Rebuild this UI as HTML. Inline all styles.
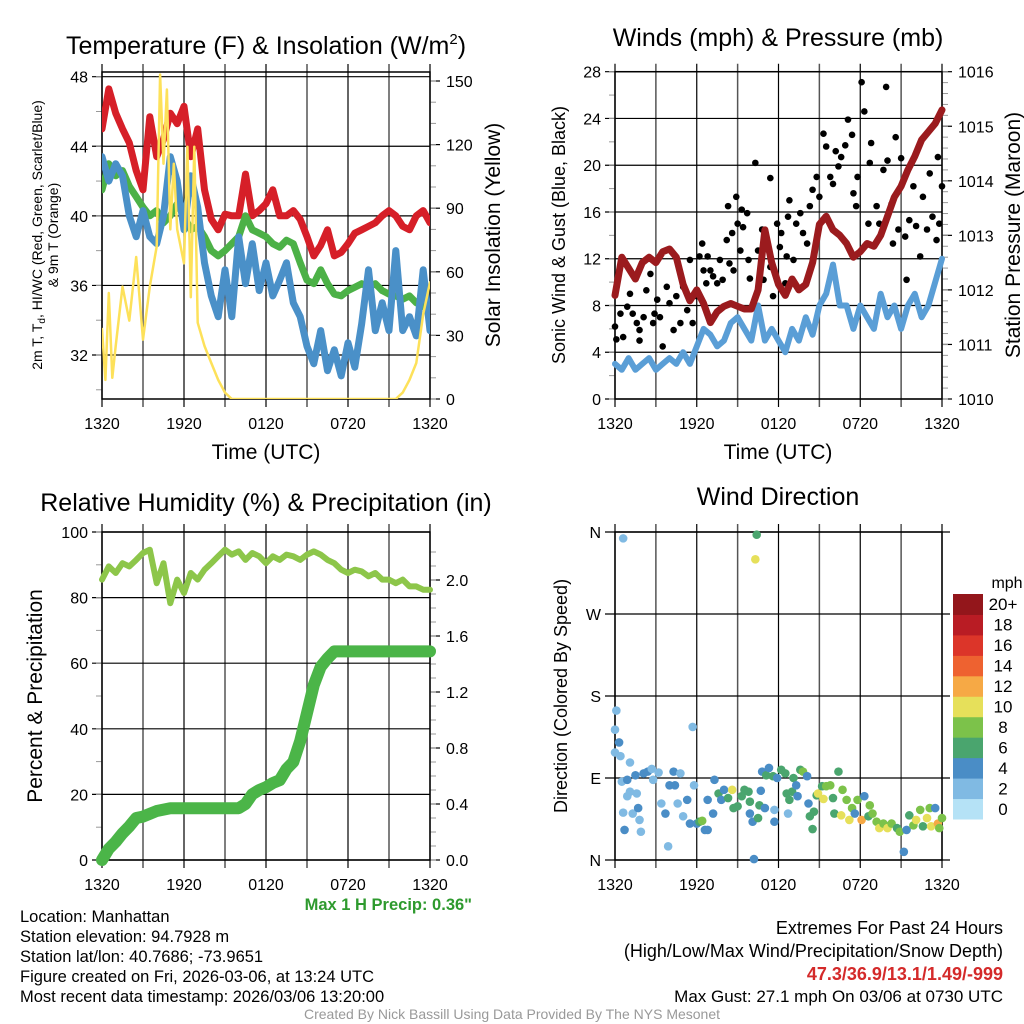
<!DOCTYPE html>
<html><head><meta charset="utf-8"><style>
html,body{margin:0;padding:0;background:#fff}
svg{display:block;font-family:"Liberation Sans",sans-serif}
</style></head><body>
<svg id="chart" width="1024" height="1024" viewBox="0 0 1024 1024" xmlns="http://www.w3.org/2000/svg">
<rect width="1024" height="1024" fill="#fff"/>
<g id="root"></g>
<text x="266" y="54" text-anchor="middle" font-size="25">Temperature (F) &amp; Insolation (W/m<tspan dy="-10" font-size="15">2</tspan><tspan dy="10">)</tspan></text>
<text x="778" y="46" text-anchor="middle" font-size="25">Winds (mph) &amp; Pressure (mb)</text>
<text x="266" y="511" text-anchor="middle" font-size="25">Relative Humidity (%) &amp; Precipitation (in)</text>
<text x="778" y="505" text-anchor="middle" font-size="25">Wind Direction</text>
<text x="266" y="459" text-anchor="middle" font-size="21">Time (UTC)</text>
<text x="778" y="459" text-anchor="middle" font-size="21">Time (UTC)</text>
<text transform="translate(42,235) rotate(-90)" text-anchor="middle" font-size="14">2m T, T<tspan font-size="10" dy="3">d</tspan><tspan dy="-3">, HI/WC (Red, Green, Scarlet/Blue)</tspan></text>
<text transform="translate(58,235) rotate(-90)" text-anchor="middle" font-size="14">&amp; 9m T (Orange)</text>
<text transform="translate(500,235) rotate(-90)" text-anchor="middle" font-size="21">Solar Insolation (Yellow)</text>
<text transform="translate(565,235) rotate(-90)" text-anchor="middle" font-size="18">Sonic Wind &amp; Gust (Blue, Black)</text>
<text transform="translate(1020,235) rotate(-90)" text-anchor="middle" font-size="21">Station Pressure (Maroon)</text>
<text transform="translate(42,696) rotate(-90)" text-anchor="middle" font-size="21">Percent &amp; Precipitation</text>
<text transform="translate(567,696) rotate(-90)" text-anchor="middle" font-size="18">Direction (Colored By Speed)</text>
<text x="472" y="910" text-anchor="end" font-size="16.5" font-weight="bold" fill="#2e9a2e">Max 1 H Precip: 0.36"</text>
<g font-size="16.5">
<text x="20" y="922">Location: Manhattan</text>
<text x="20" y="942">Station elevation: 94.7928 m</text>
<text x="20" y="962">Station lat/lon: 40.7686; -73.9651</text>
<text x="20" y="982">Figure created on Fri, 2026-03-06, at 13:24 UTC</text>
<text x="20" y="1002">Most recent data timestamp: 2026/03/06 13:20:00</text>
</g>
<g font-size="18" text-anchor="end">
<text x="1003" y="934">Extremes For Past 24 Hours</text>
<text x="1003" y="957">(High/Low/Max Wind/Precipitation/Snow Depth)</text>
<text x="1003" y="980" fill="#d42a2a" font-weight="bold">47.3/36.9/13.1/1.49/-999</text>
<text x="1003" y="1002" font-size="17">Max Gust: 27.1 mph On 03/06 at 0730 UTC</text>
</g>
<text x="512" y="1019" text-anchor="middle" font-size="14" fill="#999">Created By Nick Bassill Using Data Provided By The NYS Mesonet</text>
</svg>
<script>
// ---- data ----
const timeLabels=["1320","1920","0120","0720","1320"];
const hours=[0,0.5,1,1.5,2,2.5,3,3.5,4,4.5,5,5.5,6,6.5,7,7.5,8,8.5,9,9.5,10,10.5,11,11.5,12,12.5,13,13.5,14,14.5,15,15.5,16,16.5,17,17.5,18,18.5,19,19.5,20,20.5,21,21.5,22,22.5,23,23.5,24];
const tempF=[45,47.3,45.9,45,44.2,42.6,41.5,45.7,43.4,44.4,45.9,45.3,46.3,43.4,45,41.5,39.8,39.2,40.1,40,40,42.4,40,40.3,40.7,41.5,40,40,40.3,39.8,38.8,37.7,38.3,39.2,37.7,37.9,38.4,39,39.2,39.4,39.6,40,40.3,40,39.4,39.2,40,40.3,39.6];
const dewF=[41.5,43,42.3,42.6,41.7,41.1,40.5,40,40.3,39.6,40,40.7,40,39.2,39.4,38.8,38,37.7,38,38.4,38.8,40,39.2,39,38.8,38.4,38.2,38.6,38.4,37.3,36.3,36.1,36.9,36.1,35.5,35.4,35.7,35.9,36.1,35.9,36.1,35.7,35.5,35.4,35.2,35.4,35,34.8,34.6];
const windChillF=[43.4,42,43,42.3,40,38.8,40.3,38.8,38.4,40,43.4,42,39.2,42.3,40.5,37.3,35.4,34.2,36.9,34.2,38.8,36.1,38.4,35.7,37.3,35.4,36.3,37.3,35,34.2,32.5,31.5,33.4,31.1,32.3,30.8,32.7,31.3,33.8,36.9,33.4,35,33.4,38,33.4,34.2,33.1,36.9,33.4];
const solarHours=[0,0.25,0.5,0.75,1,1.5,2,2.5,3,3.5,4,4.25,4.5,4.75,5,5.25,5.5,6,6.25,6.5,6.75,7,7.5,8,8.5,9,9.5,21.5,22,22.5,23,23.5,24];
const solarW=[33,9,50,10,25,53,37,67,28,53,72,153,111,146,80,111,80,64,119,48,119,36,25,17,9,3,0,0,3,9,17,40,55];
const windMph=[3,2.5,3.5,2.5,3,3.5,2.5,3,3.5,3,4,3,4.5,6,5.5,4.5,5,6.5,7,6,5,8,5,6,5,4,6,5,7,5.5,8,9,11.5,8,8,6,8,7,6,9,7,8,6,8,9,7,8,10,12];
const pressureMb=[1011.9,1012.6,1012.4,1012.2,1012.5,1012.6,1012.5,1012.7,1012.75,1012.6,1012.1,1011.8,1012,1011.75,1011.4,1011.6,1011.7,1011.75,1011.7,1011.65,1011.65,1012,1013.1,1012.5,1012.1,1011.9,1012.2,1012,1012.1,1012.5,1013.2,1013.35,1013.1,1013,1012.85,1012.6,1012.7,1012.85,1012.8,1013,1013.35,1013.7,1013.9,1014.2,1014.45,1014.75,1014.9,1015.05,1015.3];
const gustHours=[0,0.1,0.4,0.6,0.9,1.1,1.3,1.6,1.8,1.8,2.1,2.3,2.6,2.8,2.9,3.1,3.3,3.5,3.8,4,4.3,4.5,4.8,5,5.3,5.5,5.7,6,6.2,6.4,6.5,6.7,6.8,7,7.2,7.5,7.7,7.9,8.2,8.3,8.4,8.6,8.7,8.9,9,9.2,9.3,9.4,9.7,9.8,9.9,10.3,10.5,10.8,10.9,11.1,11.4,11.4,11.6,11.9,12.1,12.2,12.5,12.6,12.7,12.8,13.1,13.3,13.6,13.8,14.1,14.3,14.5,14.8,15,15.3,15.5,15.8,16,16.2,16.4,16.6,16.9,17.1,17.4,17.5,17.7,17.8,18.1,18.3,18.6,18.7,18.8,19.2,19.4,19.7,19.9,20,20.3,20.4,20.6,20.8,21,21.3,21.4,21.6,21.9,22.1,22.4,22.6,22.9,23.1,23.3,23.6,23.7,23.8,24];
const gustMph=[6.2,5.1,7.3,5.3,7.9,9,7.3,6.5,5.9,5,7,9.3,10.7,6.5,7.3,8.5,7,4.5,9.6,8.2,5.9,8.8,6.5,9.6,7.6,11.9,6.5,8.8,12.2,13.3,11,9.9,12.2,11,10.5,9.9,11.9,10.2,13.6,16.5,11.6,14.2,11,17.3,15,12.7,16.2,14.7,15.9,11.9,10.3,20.2,12.7,14.5,10.2,13.3,11.3,18.9,8.8,15,13,14.2,9.9,12.2,15.6,17,11.9,15,15.9,14.2,13.3,16.5,17.9,19,17.3,22.7,21.6,19,18.4,21.2,19.9,20.7,21.7,23.9,22.6,17.6,16.5,19,27.1,24.6,15,20.2,21.9,16.5,15,19.6,26.7,20.4,16.7,13.3,22.4,14.5,20.6,13.9,10.2,15.3,18.2,14.8,12.2,17.3,14.5,19.3,15.6,13.6,20.7,15,18.2];
const rhPct=[85.5,89.5,87.5,90.5,89.5,91.5,93.6,94.6,84.4,90.5,78.3,85.5,81.4,87.5,85.5,88.5,90.5,92.6,94.6,93.1,94.1,91.5,93.6,92.6,90.5,92.6,91.5,93.1,92.6,91.5,93.1,94.1,93.1,91.5,90.5,88.5,87.5,88.5,88,86.5,87.5,85.5,85.5,84.4,85.5,83.4,83.4,82.4,82.4];
const precipIn=[0,0.08,0.13,0.19,0.24,0.3,0.31,0.33,0.35,0.36,0.37,0.37,0.37,0.37,0.37,0.37,0.37,0.37,0.37,0.37,0.37,0.4,0.47,0.5,0.52,0.55,0.57,0.65,0.7,0.85,1.05,1.25,1.38,1.44,1.49,1.49,1.49,1.49,1.49,1.49,1.49,1.49,1.49,1.49,1.49,1.49,1.49,1.49,1.49];
const dirHours=[0.6,0.1,0,0.3,0,0.4,1.1,0.5,0.9,1.5,1.1,1.6,0.9,0.6,0.7,1.3,1.7,1.8,1.9,2.1,2.4,2.7,2.8,3.2,3.4,3.7,3.9,4,4.3,4.4,4.8,4.6,5,5.3,5.5,5.7,5.8,6,6.2,6.4,6.6,6.8,6.8,7.2,7.3,7.6,7.8,8,8.3,8.6,8.7,9,9.3,9.5,9.8,9.9,9.9,10.1,10.2,10.4,10.3,10.5,10.6,10.7,10.8,11,11.1,11.3,11.6,11.7,11.7,11.9,12.2,12.5,12.6,12.7,12.8,13,13.1,13.3,13.4,13.6,13.8,14.1,14.2,14.3,14.5,14.6,14.8,14.9,15.2,15.3,15.5,15.8,16,16.1,16.4,16.6,16.7,17,17.2,17.4,17.6,17.8,18.1,18.3,18.6,18.7,18.9,19.2,19.4,19.7,20,20.3,20.7,20.9,21.2,21.4,21.6,21.9,22.1,22.4,22.6,22.9,23.1,23.2,23.5,23.7,23.8,24];
const dirDeg=[353,164,143,129,118,114,107,86,88,93,75,73,70,52,33,51,57,44,31,95,97,100,88,96,62,51,15,82,97,82,95,62,48,66,40,146,82,40,42,43,33,33,66,51,88,73,66,77,68,77,57,59,70,77,75,64,51,42,1,357,330,46,60,76,97,57,93,101,92,42,55,90,99,95,73,51,66,75,90,82,70,99,97,92,62,48,34,53,71,73,81,67,81,82,68,51,97,49,77,66,44,57,51,66,44,70,48,60,51,42,35,40,35,40,35,31,9,33,49,38,44,55,37,46,57,37,57,40,35,46];
const dirSpeed=[3,3,3,5,3,3,3,3,5,5,3,3,3,3,5,3,5,3,3,5,5,3,3,3,3,5,3,5,5,5,3,3,3,5,5,3,3,5,7,9,5,5,5,5,5,7,5,5,7,11,7,7,7,7,7,7,5,5,5,7,11,7,7,5,5,5,7,5,7,5,3,5,7,7,7,3,7,7,7,5,5,7,9,5,5,7,7,7,7,11,7,11,9,9,7,7,7,11,9,9,11,9,5,9,13,5,7,9,9,9,11,9,11,9,7,9,5,5,7,9,11,9,7,11,9,11,5,13,9,9];
const cbarLabels=["0","2","4","6","8","10","12","14","16","18","20+"];
const cbarColors=["#b5e2f6","#80bae3","#4a8dc6","#4aa56e","#7cc24a","#e6e05a","#f6a945","#ee6230","#dc3529","#b91c24","#93161b"];

// ---- helpers ----
const NS="http://www.w3.org/2000/svg";
const root=document.getElementById('root');
function el(tag,attrs,parent){const e=document.createElementNS(NS,tag);for(const k in attrs)e.setAttribute(k,attrs[k]);(parent||root).appendChild(e);return e;}
function lin(d0,d1,r0,r1){return v=>r0+(v-d0)*(r1-r0)/(d1-d0);}
function txt(x,y,s,size,anchor,parent){const t=el('text',{x:x,y:y,'font-size':size,'text-anchor':anchor||'middle'},parent);t.textContent=s;return t;}

function panel(o){
  const g=el('g',{});
  
  
  const X=lin(0,24,o.x0,o.x1);
  for(let h=0;h<=24;h+=3){
    const l=el('line',{x1:X(h),x2:X(h),y1:o.yTop-8,y2:o.yBot+8,stroke:(h%6==0)?'#000':'#555','stroke-width':(h%6==0)?1.2:1.5},g);
    
    
  }
  timeLabels.forEach((s,i)=>{const t=txt(X(i*6),o.yBot+30,s,16,'middle',g);
    
    });
  o.leftTicks.forEach((v,i)=>{const y=o.L(v);
    const l=el('line',{x1:o.x0-10,x2:o.x1+(o.gridExt||0),y1:y,y2:y,stroke:'#000','stroke-width':1.2},g);
    
    
    const t=txt(o.x0-14,y+6,o.leftLabels[i],16,'end',g);
    
    });
  (o.leftMinor||[]).forEach(v=>{const y=o.L(v);el('line',{x1:o.x0-6,x2:o.x0,y1:y,y2:y,stroke:'#999'},g);});
  if(o.R){
    o.rightTicks.forEach((v,i)=>{const y=o.R(v);
      el('line',{x1:o.x1,x2:o.x1+10,y1:y,y2:y,stroke:'#000','stroke-width':1.2},g);
      const t=txt(o.x1+16,y+6,o.rightLabels[i],16,'start',g);
      
      });
    (o.rightMinor||[]).forEach(v=>{const y=o.R(v);el('line',{x1:o.x1,x2:o.x1+6,y1:y,y2:y,stroke:'#999'},g);});
  }
  const f=el('rect',{x:o.x0,y:o.yTop,width:o.x1-o.x0,height:o.yBot-o.yTop,fill:'none',stroke:'#000','stroke-width':1.5},g);
  
  
  return {X,g};
}
function line(xs,ys,X,Y,color,w,name,parent){
  const d=xs.map((h,i)=>(i?'L':'M')+X(h).toFixed(1)+' '+Y(ys[i]).toFixed(1)).join(' ');
  const p=el('path',{d:d,fill:'none',stroke:color,'stroke-width':w,'stroke-linejoin':'round','stroke-linecap':'round'},parent);
  
  
  return p;
}
function range(a,b,s){const r=[];for(let v=a;v<=b+1e-9;v+=s)r.push(+v.toFixed(3));return r;}

// ---- Panel 1: temperature ----
{const L=lin(32,48,355,76.7),R=lin(0,150,399,81);
 const P=panel({name:'temperature-panel',x0:102,x1:430,yTop:72,yBot:399,L,R,
  leftTicks:[32,36,40,44,48],leftLabels:['32','36','40','44','48'],leftMinor:range(30,48,2),
  rightTicks:[0,30,60,90,120,150],rightLabels:['0','30','60','90','120','150'],rightMinor:range(0,150,10)});
 const cp=el('clipPath',{id:'c1'});el('rect',{x:102,y:72,width:328,height:327},cp);
 const g=el('g',{'clip-path':'url(#c1)'});
 line(hours,tempF,P.X,L,'#d61f28',7,'temperature-line',g);
 line(hours,dewF,P.X,L,'#4cb147',7,'dewpoint-line',g);
 line(hours,windChillF,P.X,L,'#4a90c8',7,'wind-chill-line',g);
 line(solarHours,solarW,P.X,R,'#fde15a',2.5,'solar-insolation-line',g);
}
// ---- Panel 2: winds ----
{const L=lin(0,28,399,71.7),R=lin(1010,1016,399,71.7);
 const P=panel({name:'wind-panel',x0:615,x1:942,yTop:71.7,yBot:399,L,R,
  leftTicks:[0,4,8,12,16,20,24,28],leftLabels:['0','4','8','12','16','20','24','28'],leftMinor:range(0,28,2),
  rightTicks:[1010,1011,1012,1013,1014,1015,1016],rightLabels:['1010','1011','1012','1013','1014','1015','1016'],rightMinor:range(1010,1016,0.2)});
 line(hours,windMph,P.X,L,'#5a9ed6',6,'sonic-wind-line');
 gustHours.forEach((h,i)=>{const c=el('circle',{cx:P.X(h),cy:L(gustMph[i]),r:3.3,fill:'#000'});
  
  });
 line(hours,pressureMb,P.X,R,'#9b1b1e',7,'pressure-line');
}
// ---- Panel 3: RH & precip ----
{const L=lin(0,100,860,532),R=lin(0,2,860,580);
 const P=panel({name:'humidity-panel',x0:102,x1:430,yTop:532,yBot:860,L,R,
  leftTicks:[0,20,40,60,80,100],leftLabels:['0','20','40','60','80','100'],leftMinor:range(0,100,10),
  rightTicks:[0,0.4,0.8,1.2,1.6,2.0],rightLabels:['0.0','0.4','0.8','1.2','1.6','2.0'],rightMinor:range(0,2.2,0.1)});
 line(hours,rhPct,P.X,L,'#8dc64a',6,'relative-humidity-line');
 line(hours,precipIn,P.X,R,'#4bb548',12,'precipitation-line');
}
// ---- Panel 4: wind direction ----
{const L=lin(0,360,860,532);
 const P=panel({name:'direction-panel',x0:615,x1:942,yTop:532,yBot:860,L,gridExt:8,
  leftTicks:[0,90,180,270,360],leftLabels:['N','E','S','W','N']});
 dirHours.forEach((h,i)=>{const b=Math.min(10,Math.floor(dirSpeed[i]/2));
  const c=el('circle',{cx:P.X(h),cy:L(dirDeg[i]),r:4.3,fill:cbarColors[b]});
  
  });
 const cb=el('g',{});
 
 
 const top=594,bot=819,n=cbarColors.length,hh=(bot-top)/n;
 cbarColors.forEach((c,i)=>{el('rect',{x:953,y:bot-(i+1)*hh,width:30,height:hh+0.5,fill:c},cb);
  const t=txt(1003,bot-(i+0.5)*hh+6,cbarLabels[i],17,'middle',cb);
  
  });
 const m=txt(1007,588,'mph',16,'middle',cb);
 
 
}
</script>
</body></html>
